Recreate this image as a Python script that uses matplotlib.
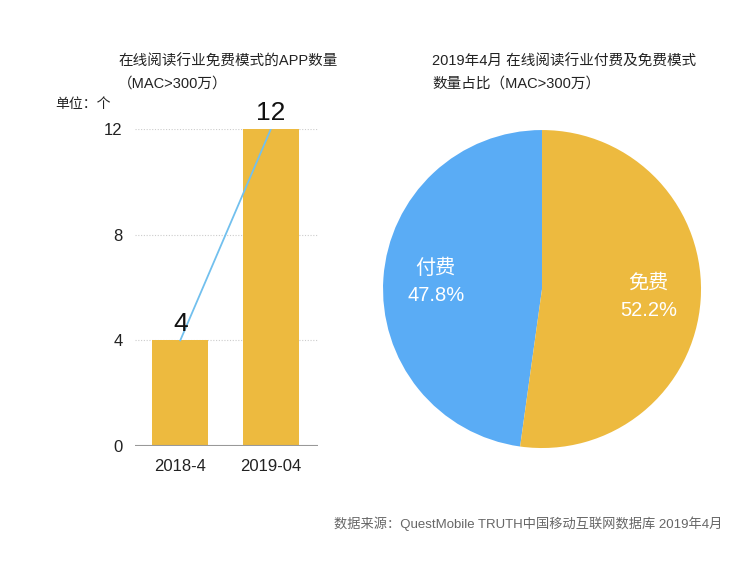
import matplotlib
matplotlib.use("Agg")
import matplotlib.pyplot as plt

plt.rcParams['font.family'] = ['Liberation Sans', 'Noto Sans CJK SC', 'DejaVu Sans']

# data
periods = ['2018-4', '2019-04']
app_counts = [4, 12]
y_ticks = [0, 4, 8, 12]
pie_labels = ['付费', '免费']
pie_shares = [47.8, 52.2]

YELLOW = '#EDBA3F'
BLUE = '#5AACF5'
LINE_BLUE = '#72C0EE'

fig = plt.figure(figsize=(7.5, 5.62), dpi=100)

# left: bar chart
ax = fig.add_axes([0.18, 0.2064, 0.244, 0.5641])
x = list(range(len(periods)))
ax.bar(x, app_counts, width=0.62, color=YELLOW, zorder=2)
ax.plot(x, app_counts, color=LINE_BLUE, lw=1.3, zorder=3)
for xi, v in zip(x, app_counts):
    ax.annotate(str(v), (xi, v), xytext=(0, 3), textcoords='offset points',
                ha='center', va='bottom', fontsize=19, color='#111111',
                annotation_clip=False, zorder=4)
ax.set_xlim(-0.5, 1.52)
ax.set_ylim(0, 12)
ax.set_yticks(y_ticks)
ax.set_xticks(x)
ax.set_xticklabels(periods)
ax.tick_params(length=0, labelsize=12, colors='#222222')
ax.tick_params(axis='y', pad=9)
ax.tick_params(axis='x', pad=9)
for t in y_ticks[1:]:
    ax.axhline(t, color='#CCCCCC', lw=0.8, ls=(0, (1, 1.5)), zorder=1)
ax.axhline(0, color='#999999', lw=1.5, zorder=3)
for s in ax.spines.values():
    s.set_visible(False)

# right: pie chart
pax = fig.add_axes([0.5107, 0.2028, 0.424, 0.5658])
pie_text = iter(pie_labels)
wedges, texts, autotexts = pax.pie(
    pie_shares, colors=[BLUE, YELLOW], startangle=90, counterclock=True,
    autopct=lambda p: f'{next(pie_text)}\n{p:.1f}%', pctdistance=0.67,
    wedgeprops=dict(linewidth=0),
    textprops=dict(color='white', fontsize=14.5, linespacing=1.55))
pax.set_xlim(-1, 1)
pax.set_ylim(-1, 1)
pax.set_aspect('equal')

# titles and notes
fig.text(118 / 750, 1 - 62 / 562, '在线阅读行业免费模式的APP数量',
         fontsize=10.5, va='center', ha='left', color='#222222')
fig.text(118 / 750, 1 - 84 / 562, '（MAC>300万）',
         fontsize=10.5, va='center', ha='left', color='#222222')
fig.text(55 / 750, 1 - 104 / 562, '单位：个',
         fontsize=10, va='center', ha='left', color='#222222')
fig.text(432 / 750, 1 - 62 / 562, '2019年4月 在线阅读行业付费及免费模式',
         fontsize=10.5, va='center', ha='left', color='#222222')
fig.text(432 / 750, 1 - 84 / 562, '数量占比（MAC>300万）',
         fontsize=10.5, va='center', ha='left', color='#222222')
fig.text(722 / 750, 1 - 524 / 562,
         '数据来源：QuestMobile TRUTH中国移动互联网数据库 2019年4月',
         fontsize=9.5, va='center', ha='right', color='#666666')

fig.savefig('out.png', dpi=100, facecolor='white')
